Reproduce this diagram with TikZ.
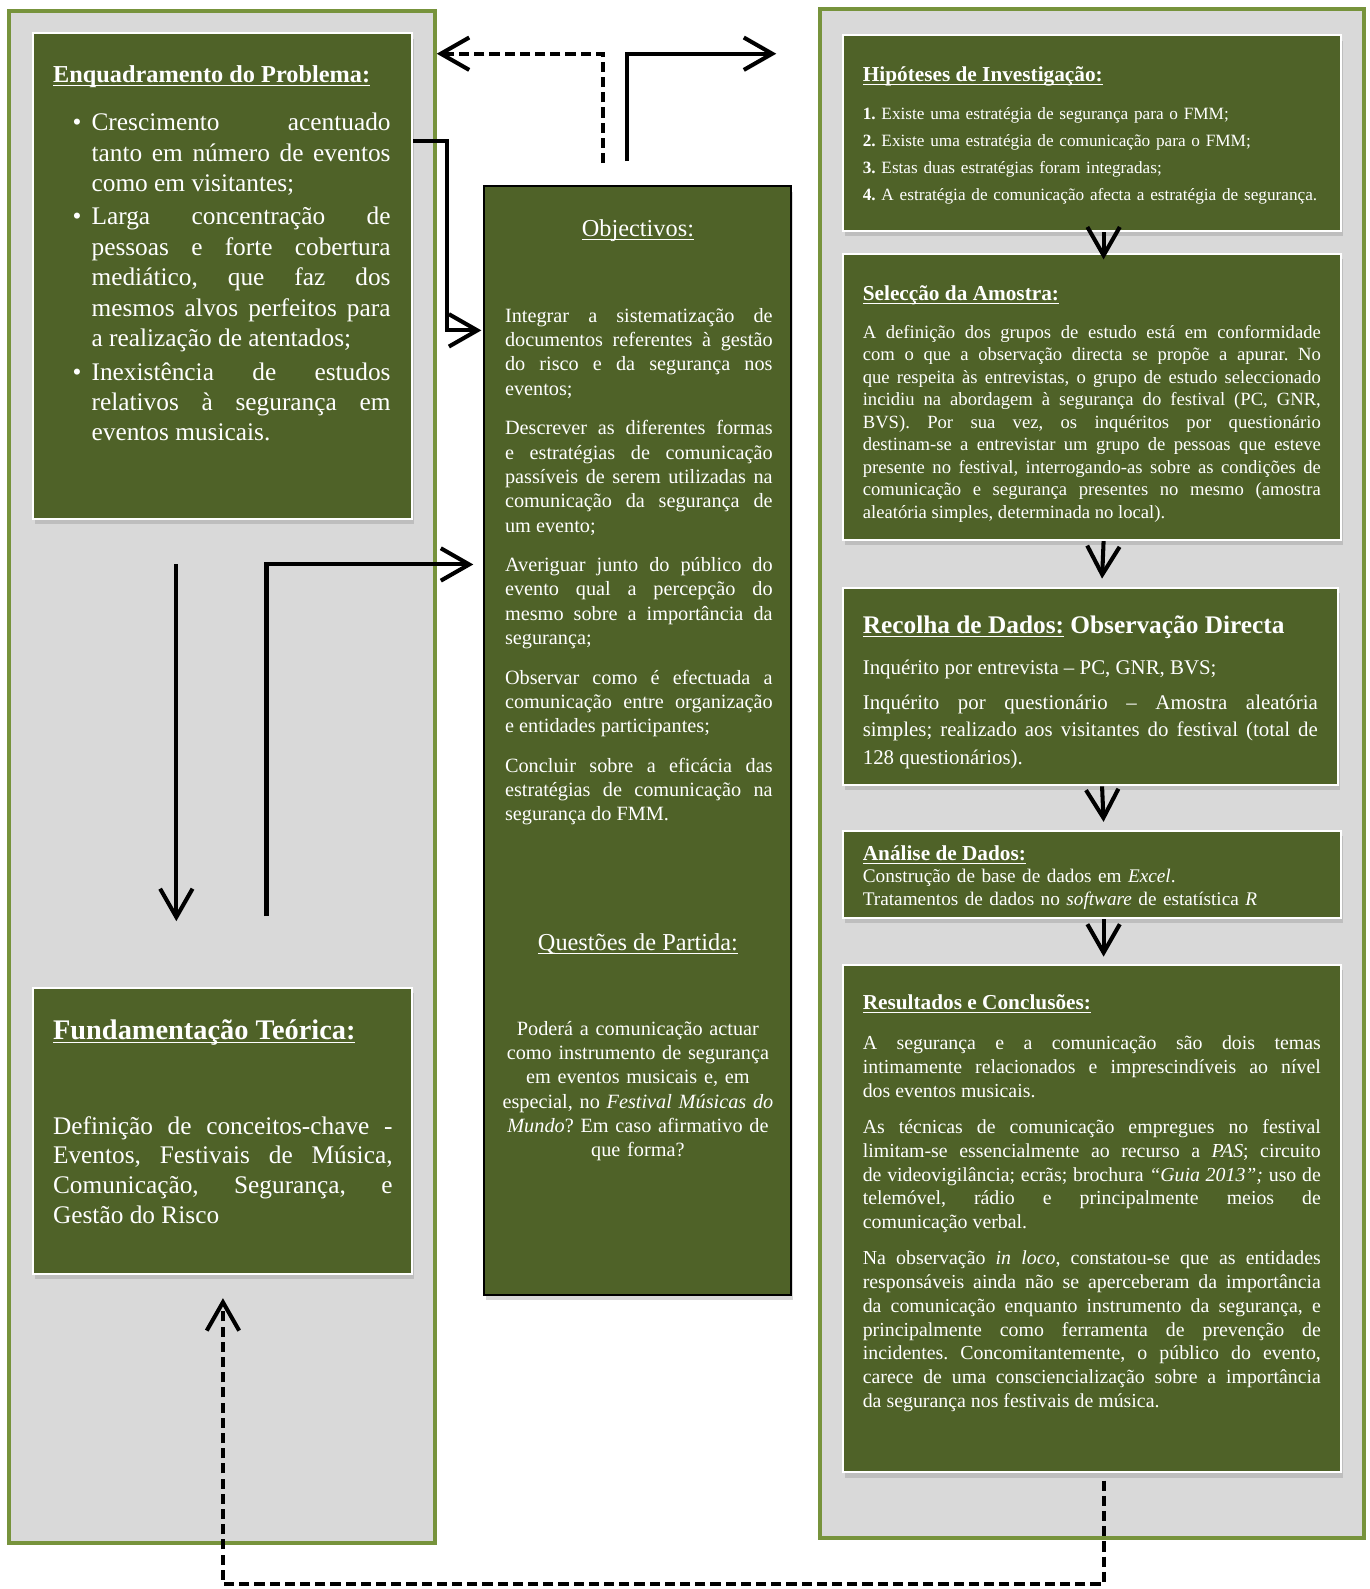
\documentclass[tikz,border=0pt]{standalone}
\usepackage{fontspec}
\setmainfont{Liberation Serif}
\usetikzlibrary{arrows.meta,fit,shadows}
\definecolor{olivedark}{HTML}{4F6228}
\definecolor{olivepanel}{HTML}{77933C}
\definecolor{panelgray}{HTML}{D9D9D9}
\setlength{\parindent}{0pt}
\frenchspacing
\hyphenpenalty=10000 \exhyphenpenalty=10000
\tolerance=10000 \hbadness=10000
\newcommand{\uln}[1]{\underline{\smash{#1}}}
\newcommand{\bul}{\leavevmode\llap{\textbullet\hspace{5pt}}}
\newcommand{\fs}[2]{\fontsize{#1}{#2}\selectfont}
\tikzset{
  panel/.style={draw=olivepanel, fill=panelgray, line width=2pt},
  card/.style={draw=white, fill=olivedark, line width=1pt,
    drop shadow={shadow xshift=1pt, shadow yshift=-2.5pt, opacity=0.3}},
  column/.style={card, draw=black},
  head/.style={anchor=base west, font=\bfseries\fs{10.5}{12}},
  body/.style={anchor=base west, text width=#1, align=justify},
  para/.style={execute at begin node={\setlength{\parskip}{#1}}},
  arr/.style={line width=2pt, -{Straight Barb[length=14pt,width=16pt]}},
  dasharr/.style={arr, dash pattern=on 5pt off 2.5pt},
}
\begin{document}
\begin{tikzpicture}[x=0.5pt, y=-0.5pt, every node/.style={text=white, inner sep=0pt}]
\useasboundingbox (0,0) rectangle (1351,1568);
% side panels
\node[panel, fit={(9,11) (429,1523)}] (lpanel) {};
\node[panel, fit={(809,9) (1346,1518)}] (rpanel) {};
% boxes
\foreach \n/\xa/\ya/\xb/\yb in {enq/33/33/407/512, fund/33/975/407/1257, hip/832/35/1323/228, sel/832/251/1323/533, rec/832/580/1320/775, ana/832/820/1323/906, res/832/952/1323/1453}
  \node[card, fit={(\xa,\ya) (\xb,\yb)}] (\n) {};
\node[column, fit={(478,184) (781,1278)}] (obj) {};

% left column
\node[head, font=\bfseries\fs{12}{14}] (enqT) at (52,81) {\uln{Enquadramento do Problema:}};
\node[body=147.5pt, font=\fs{12.5}{15}, para=1.5pt] (enqB) at (90,129) {\bul Crescimento acentuado\linebreak tanto em número de eventos\linebreak como em visitantes;\par
\bul Larga concentração de\linebreak pessoas e forte cobertura\linebreak mediático, que faz dos\linebreak mesmos alvos perfeitos para\linebreak a realização de atentados;\par
\bul Inexistência de estudos\linebreak relativos à segurança em\linebreak eventos musicais.};
\node[head, font=\bfseries\fs{14}{16}] (fundT) at (52,1026) {\uln{Fundamentação Teórica:}};
\node[body=167.5pt, font=\fs{12.5}{14.75}] (fundB) at (52,1119) {Definição de conceitos-chave -\linebreak Eventos, Festivais de Música,\linebreak Comunicação, Segurança, e\linebreak Gestão do Risco};

% middle column
\node[anchor=base, font=\fs{12}{14}] (objT) at (629.5,233) {\uln{Objectivos:}};
\node[body=132pt, font=\fs{10}{12}, para=7.5pt] (objB) at (498,318) {Integrar a sistematização de\linebreak documentos referentes à gestão\linebreak do risco e da segurança nos\linebreak eventos;\par
Descrever as diferentes formas\linebreak e estratégias de comunicação\linebreak passíveis de serem utilizadas na\linebreak comunicação da segurança de\linebreak um evento;\par
Averiguar junto do público do\linebreak evento qual a percepção do\linebreak mesmo sobre a importância da\linebreak segurança;\par
Observar como é efectuada a\linebreak comunicação entre organização\linebreak e entidades participantes;\par
Concluir sobre a eficácia das\linebreak estratégias de comunicação na\linebreak segurança do FMM.};
\node[anchor=base, font=\fs{12}{14}] (qT) at (629.5,938) {\uln{Questões de Partida:}};
\node[anchor=base, align=center, text width=135pt, font=\fs{10}{11.9}] (qB) at (629.5,1022) {Poderá a comunicação actuar\\ como instrumento de segurança\\ em eventos musicais e, em\\ especial, no \textit{Festival Músicas do}\\ \textit{Mundo}? Em caso afirmativo de\\ que forma?};

% right column
\node[head] (hipT) at (851,80) {\uln{Hipóteses de Investigação:}};
\node[anchor=base west, align=left, text width=236pt, font=\fs{8.5}{13.3}] (hipB) at (851,118) {\textbf{1.} Existe uma estratégia de segurança para o FMM;\\
\textbf{2.} Existe uma estratégia de comunicação para o FMM;\\
\textbf{3.} Estas duas estratégias foram integradas;\\
\textbf{4.} A estratégia de comunicação afecta a estratégia de segurança.};
\node[head] (selT) at (851,297) {\uln{Selecção da Amostra:}};
\node[body=226pt, font=\fs{9.2}{11.1}] (selB) at (851,334) {A definição dos grupos de estudo está em conformidade\linebreak com o que a observação directa se propõe a apurar. No\linebreak que respeita às entrevistas, o grupo de estudo seleccionado\linebreak incidiu na abordagem à segurança do festival (PC, GNR,\linebreak BVS). Por sua vez, os inquéritos por questionário\linebreak destinam-se a entrevistar um grupo de pessoas que esteve\linebreak presente no festival, interrogando-as sobre as condições de\linebreak comunicação e segurança presentes no mesmo (amostra\linebreak aleatória simples, determinada no local).};
\node[head, font=\bfseries\fs{12.5}{14}] (recT) at (851,625) {\uln{Recolha de Dados:} Observação Directa};
\node[body=224.5pt, font=\fs{10.3}{13.5}, para=3.5pt] (recB) at (851,666) {Inquérito por entrevista – PC, GNR, BVS;\par
Inquérito por questionário – Amostra aleatória\linebreak simples; realizado aos visitantes do festival (total de\linebreak 128 questionários).};
\node[head] (anaT) at (851,849) {\uln{Análise de Dados:}};
\node[anchor=base west, align=left, text width=236pt, font=\fs{9.5}{11.5}] (anaB) at (851,871) {Construção de base de dados em \textit{Excel}.\\ Tratamentos de dados no \textit{software} de estatística \textit{R}};
\node[head] (resT) at (851,996) {\uln{Resultados e Conclusões:}};
\node[body=226pt, font=\fs{9.8}{11.8}, para=5.7pt] (resB) at (851,1036) {A segurança e a comunicação são dois temas\linebreak intimamente relacionados e imprescindíveis ao nível\linebreak dos eventos musicais.\par
As técnicas de comunicação empregues no festival\linebreak limitam-se essencialmente ao recurso a \textit{PAS}; circuito\linebreak de videovigilância; ecrãs; brochura \textit{“Guia 2013”;} uso de\linebreak telemóvel, rádio e principalmente meios de\linebreak comunicação verbal.\par
Na observação \textit{in loco}, constatou-se que as entidades\linebreak responsáveis ainda não se aperceberam da importância\linebreak da comunicação enquanto instrumento da segurança, e\linebreak principalmente como ferramenta de prevenção de\linebreak incidentes. Concomitantemente, o público do evento,\linebreak carece de uma consciencialização sobre a importância\linebreak da segurança nos festivais de música.};

% connectors
\coordinate (toprow) at (700,53);
\draw[dasharr] ([xshift=-17.25pt,yshift=11pt]obj.north) |- (lpanel.east |- toprow);
\draw[arr] ([xshift=-5.25pt,yshift=12pt]obj.north) |- ([xshift=-20.5pt]rpanel.west |- toprow);
\draw[arr] ([yshift=-53.5pt]enq.north east) -- ++(16.5pt,0) |- ([xshift=-1pt,yshift=-71.5pt]obj.north west);
\draw[arr] ([xshift=-23pt,yshift=-22pt]enq.south) -- ([xshift=-23pt,yshift=32.5pt]fund.north);
\draw[arr] ([xshift=21.5pt,yshift=35pt]fund.north) |- ([xshift=-5pt,yshift=-187pt]obj.north west);
\draw[dasharr] ([xshift=5.75pt,yshift=-3.5pt]res.south) -- ++(0,-51pt) -| ([yshift=-11.5pt]fund.south);
\foreach \a/\b/\s in {hip/sel/-3pt, sel/rec/4pt, rec/ana/4pt, ana/res/3.5pt}
  \draw[arr] ([xshift=5.75pt]\a.south) -- ([xshift=5.75pt,yshift=\s]\b.north);
\end{tikzpicture}
\end{document}
